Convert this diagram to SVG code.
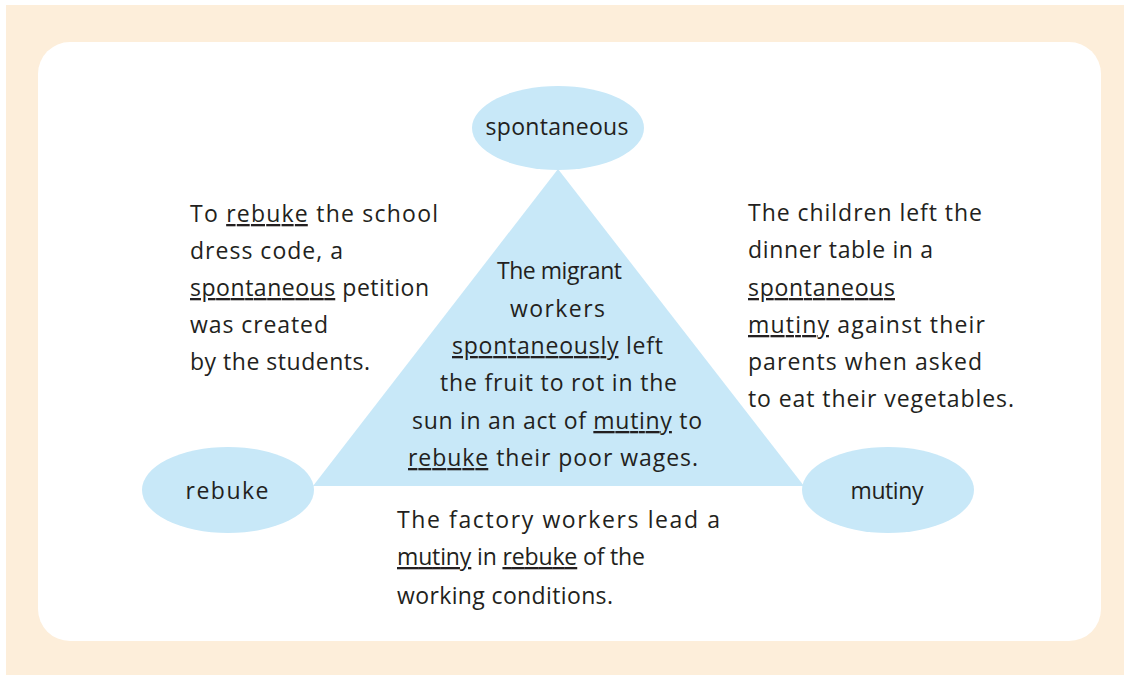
<svg xmlns="http://www.w3.org/2000/svg" width="1128" height="679" viewBox="0 0 1128 679">
  <style>
    .frame { fill: #FDEEDA; }
    .card { fill: #FFFFFF; }
    .shape { fill: #C8E8F8; }
    .txt { font-family: "Open Sans", "Liberation Sans", sans-serif; font-size: 23px; fill: #231F20; }
    .lbl { font-family: "Open Sans", "Liberation Sans", sans-serif; font-size: 23px; fill: #231F20; text-anchor: middle; }
    .u { text-decoration: underline; }
  </style>

  <!-- page frame and card -->
  <rect class="frame" x="6" y="5" width="1118" height="670"/>
  <rect class="card" x="38" y="42" width="1063" height="599" rx="32" ry="32"/>

  <!-- triangle linking the three words -->
  <g id="connectors">
    <polygon class="shape" points="558,169 313,486 804,486"/>
  </g>

  <!-- word nodes -->
  <g id="node-spontaneous">
    <ellipse class="shape" cx="558" cy="128" rx="86" ry="42"/>
    <text class="lbl" x="557" y="135" textLength="143">spontaneous</text>
  </g>
  <g id="node-rebuke">
    <ellipse class="shape" cx="228" cy="490" rx="86" ry="43"/>
    <text class="lbl" x="227" y="499" textLength="83">rebuke</text>
  </g>
  <g id="node-mutiny">
    <ellipse class="shape" cx="888" cy="490" rx="86" ry="43"/>
    <text class="lbl" x="887" y="499" textLength="73">mutiny</text>
  </g>

  <!-- sentence using rebuke + spontaneous -->
  <g id="sentence-left" class="txt">
    <text x="190" y="222" textLength="248">To <tspan class="u">rebuke</tspan> the school</text>
    <text x="190" y="259" textLength="153">dress code, a</text>
    <text x="190" y="296" textLength="239"><tspan class="u">spontaneous</tspan> petition</text>
    <text x="190" y="333" textLength="138">was created</text>
    <text x="190" y="370" textLength="180">by the students.</text>
  </g>

  <!-- sentence using all three words -->
  <g id="sentence-center" class="txt">
    <text x="497" y="279" textLength="125">The migrant</text>
    <text x="510" y="317" textLength="95">workers</text>
    <text x="452" y="354" textLength="211"><tspan class="u">spontaneously</tspan> left</text>
    <text x="440" y="391" textLength="237">the fruit to rot in the</text>
    <text x="412" y="429" textLength="290">sun in an act of <tspan class="u">mutiny</tspan> to</text>
    <text x="408" y="466" textLength="290"><tspan class="u">rebuke</tspan> their poor wages.</text>
  </g>

  <!-- sentence using spontaneous + mutiny -->
  <g id="sentence-right" class="txt">
    <text x="748" y="221" textLength="234">The children left the</text>
    <text x="748" y="258" textLength="185">dinner table in a</text>
    <text x="748" y="296" textLength="147"><tspan class="u">spontaneous</tspan></text>
    <text x="748" y="333" textLength="237"><tspan class="u">mutiny</tspan> against their</text>
    <text x="748" y="370" textLength="234">parents when asked</text>
    <text x="748" y="407" textLength="266">to eat their vegetables.</text>
  </g>

  <!-- sentence using mutiny + rebuke -->
  <g id="sentence-bottom" class="txt">
    <text x="397" y="528" textLength="323">The factory workers lead a</text>
    <text x="397" y="565" textLength="248"><tspan class="u">mutiny</tspan> in <tspan class="u">rebuke</tspan> of the</text>
    <text x="397" y="604" textLength="216">working conditions.</text>
  </g>
</svg>
